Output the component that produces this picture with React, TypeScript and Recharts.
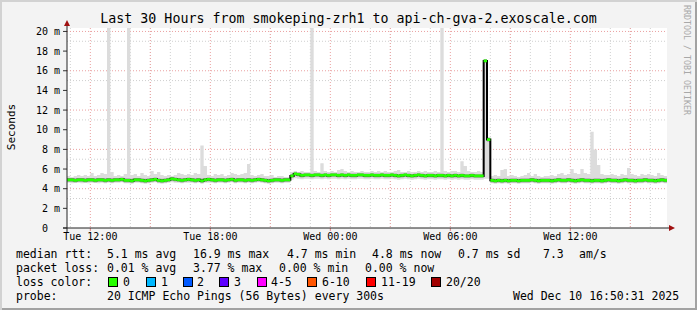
import React from "react";
import { ComposedChart, Area, XAxis, YAxis, CartesianGrid } from "recharts";

const title = "Last 30 Hours from smokeping-zrh1 to api-ch-gva-2.exoscale.com";

// one value every 10 minutes, starting Tue 10:50 (30 hours, 181 samples), milliseconds
const medianRtt = [
  4.9, 4.9, 4.85, 4.9, 4.9, 4.85,
  4.9, 4.9, 4.85, 4.9, 4.9, 4.85,
  4.9, 4.85, 4.9, 4.9, 4.95, 4.85,
  4.85, 4.8, 4.9, 4.9, 4.85, 4.8,
  4.85, 4.9, 4.95, 4.85, 4.8, 4.85,
  4.9, 5.0, 4.95, 4.9, 4.85, 4.9,
  4.95, 4.9, 4.85, 4.9, 4.8, 4.9,
  4.95, 4.9, 4.85, 4.9, 4.9, 4.85,
  4.9, 4.95, 4.85, 4.9, 4.9, 4.85,
  4.9, 4.85, 4.9, 4.95, 4.9, 4.85,
  4.8, 4.85, 4.9, 4.9, 4.85, 4.9,
  4.9, 5.3, 5.5, 5.45, 5.35, 5.4,
  5.4, 5.35, 5.4, 5.4, 5.35, 5.4,
  5.35, 5.4, 5.4, 5.35, 5.4, 5.35,
  5.4, 5.35, 5.35, 5.4, 5.4, 5.35,
  5.35, 5.4, 5.35, 5.35, 5.4, 5.35,
  5.35, 5.4, 5.35, 5.3, 5.35, 5.4,
  5.35, 5.3, 5.35, 5.4, 5.35, 5.3,
  5.35, 5.35, 5.3, 5.35, 5.35, 5.3,
  5.35, 5.3, 5.35, 5.3, 5.35, 5.3,
  5.3, 5.35, 5.3, 5.3, 5.3, 17.0,
  9.0, 4.85, 4.8, 4.85, 4.8, 4.85,
  4.8, 4.85, 4.85, 4.8, 4.85, 4.85,
  4.85, 4.9, 4.85, 4.8, 4.85, 4.85,
  4.85, 4.8, 4.85, 4.9, 4.85, 4.85,
  4.9, 4.85, 4.8, 4.85, 4.9, 4.85,
  4.85, 4.8, 4.85, 4.85, 4.8, 4.85,
  4.9, 4.85, 4.85, 4.8, 4.85, 4.9,
  4.85, 4.85, 4.8, 4.85, 4.85, 4.9,
  4.85, 4.85, 4.8, 4.85, 4.9, 4.85,
  4.85,
];

const smokeHigh = [
  5.3, 5.2, 5.3, 5.4, 5.3, 5.4,
  5.3, 5.6, 5.3, 5.4, 5.6, 5.5,
  25, 5.7, 5.3, 5.4, 5.3, 5.5,
  25, 5.4, 5.5, 5.3, 5.6, 5.4,
  5.3, 5.8, 5.5, 5.7, 5.4, 5.3,
  5.4, 5.3, 5.4, 5.6, 5.5, 5.4,
  5.5, 5.4, 5.6, 5.5, 8.4, 6.3,
  5.4, 5.3, 5.5, 5.4, 5.5, 5.3,
  5.4, 5.6, 5.5, 5.4, 5.5, 5.6,
  6.5, 5.4, 5.3, 5.4, 5.5, 5.3,
  5.3, 5.4, 5.2, 5.3, 5.3, 5.2,
  5.2, 5.7, 5.8, 5.7, 5.8, 5.7,
  5.7, 25, 5.8, 5.7, 6.6, 5.8,
  5.7, 5.8, 5.7, 5.9, 6.0, 5.8,
  5.7, 5.8, 5.7, 5.7, 5.8, 5.7,
  5.7, 5.8, 5.7, 5.8, 5.7, 5.8,
  5.7, 5.7, 5.8, 5.9, 5.7, 5.7,
  5.8, 5.7, 5.7, 5.8, 5.7, 5.8,
  5.7, 5.7, 5.8, 5.7, 25, 5.8,
  5.7, 5.8, 5.8, 5.7, 6.8, 6.3,
  5.8, 5.7, 5.7, 5.8, 5.7, 17.0,
  9.0, 5.3, 5.4, 5.3, 5.9, 6.0,
  5.3, 5.4, 5.3, 5.2, 5.3, 5.4,
  5.6, 5.3, 5.5, 5.3, 5.2, 5.3,
  5.3, 5.4, 5.3, 5.5, 5.6, 5.4,
  5.5, 6.0, 5.6, 5.5, 6.0, 5.6,
  5.5, 9.8, 8.0, 6.4, 5.5, 5.4,
  5.4, 5.5, 5.4, 5.3, 5.5, 5.4,
  6.1, 5.5, 5.4, 5.3, 5.5, 5.4,
  5.5, 5.4, 5.3, 5.6, 5.4, 5.3,
  5.3,
];

const smokeLow = [
  4.6, 4.55, 4.6, 4.6, 4.55, 4.6,
  4.55, 4.6, 4.6, 4.55, 4.6, 4.55,
  4.6, 4.55, 4.6, 4.6, 4.65, 4.55,
  4.55, 4.5, 4.6, 4.6, 4.55, 4.5,
  4.55, 4.6, 4.65, 4.55, 4.5, 4.55,
  4.6, 4.65, 4.6, 4.6, 4.55, 4.6,
  4.6, 4.6, 4.55, 4.6, 4.5, 4.6,
  4.6, 4.6, 4.55, 4.6, 4.6, 4.55,
  4.6, 4.65, 4.55, 4.6, 4.6, 4.55,
  4.6, 4.55, 4.6, 4.65, 4.6, 4.55,
  4.5, 4.55, 4.6, 4.6, 4.55, 4.6,
  4.6, 4.9, 5.05, 5.0, 4.95, 5.0,
  5.0, 4.95, 5.0, 5.0, 4.95, 5.0,
  4.95, 5.0, 5.0, 4.95, 5.0, 4.95,
  5.0, 4.95, 4.95, 5.0, 5.0, 4.95,
  4.95, 5.0, 4.95, 4.95, 5.0, 4.95,
  4.95, 5.0, 4.95, 4.9, 4.95, 5.0,
  4.95, 4.9, 4.95, 5.0, 4.95, 4.9,
  4.95, 4.95, 4.9, 4.95, 4.95, 4.9,
  4.95, 4.9, 4.95, 4.9, 4.95, 4.9,
  4.9, 4.95, 4.9, 4.9, 4.9, 5.0,
  5.0, 4.55, 4.5, 4.55, 4.5, 4.55,
  4.5, 4.55, 4.55, 4.5, 4.55, 4.55,
  4.55, 4.6, 4.55, 4.5, 4.55, 4.55,
  4.55, 4.5, 4.55, 4.6, 4.55, 4.55,
  4.6, 4.55, 4.5, 4.55, 4.6, 4.55,
  4.55, 4.5, 4.55, 4.55, 4.5, 4.55,
  4.6, 4.55, 4.55, 4.5, 4.55, 4.6,
  4.55, 4.55, 4.5, 4.55, 4.55, 4.6,
  4.55, 4.55, 4.5, 4.55, 4.6, 4.55,
  4.55,
];

// hours since Tue 10:50
const xTickHours = [7 / 6, 43 / 6, 79 / 6, 115 / 6, 151 / 6];
const xTickLabels = ["Tue 12:00", "Tue 18:00", "Wed 00:00", "Wed 06:00", "Wed 12:00"];
const yTicks = [0, 2, 4, 6, 8, 10, 12, 14, 16, 18, 20];

const statsRtt = ["5.1 ms avg", "16.9 ms max", "4.7 ms min", "4.8 ms now", "0.7 ms sd", "7.3", "am/s"];
const statsLoss = ["0.01 % avg", "3.77 % max", "0.00 % min", "0.00 % now"];
const lossLabels = ["0", "1", "2", "3", "4-5", "6-10", "11-19", "20/20"];
const lossColors = ["#26ff00", "#00b8ff", "#0059ff", "#5e00ff", "#ff00ff", "#ff5500", "#ff0000", "#a10000"];
const probeText = "20 ICMP Echo Pings (56 Bytes) every 300s";
const stampText = "Wed Dec 10 16:50:31 2025";

const data = medianRtt.map((m, i) => ({
  t: i / 6,
  median: m,
  lo: smokeLow[i],
  hi: smokeHigh[i],
}));

const minorX = Array.from({ length: 30 }, (_, k) => 1 / 6 + k);
const majorX = Array.from({ length: 10 }, (_, k) => 1 / 6 + 1 + k * 3);
const minorY = Array.from({ length: 10 }, (_, k) => 1 + k * 2);

const mono = "'DejaVu Sans Mono', monospace";
const rttX = [107, 193, 287, 372, 458, 543, 579];
const lossX = [107, 193, 279, 365];
const boxX = [108, 146, 183, 219, 257, 307, 366, 431];
const boxLabelX = [123, 161, 197, 234, 271, 322, 381, 446];

function T({ x, y, children, size = 11.5 }: { x: number; y: number; children: React.ReactNode; size?: number }) {
  return (
    <span style={{ position: "absolute", left: x, top: y - 8, lineHeight: "16px", fontSize: size, fontFamily: mono, whiteSpace: "pre", color: "#000" }}>
      {children}
    </span>
  );
}

export default function App() {
  return (
    <div
      style={{
        position: "relative",
        width: 697,
        height: 310,
        background: "#f3f3f3",
        boxShadow: "inset 2px 2px 0 #d2d2d2, inset -2px -2px 0 #a2a2a2",
        overflow: "hidden",
      }}
    >
      <style>{`body{margin:0}`}</style>
      <div style={{ position: "absolute", left: 0, width: 697, top: 9, textAlign: "center", fontFamily: mono, fontSize: 13.3, lineHeight: "20px" }}>
        {title}
      </div>
      <div
        style={{
          position: "absolute",
          left: 11,
          top: 127,
          transform: "translate(-50%, -50%) rotate(-90deg)",
          fontFamily: mono,
          fontSize: 11,
          whiteSpace: "nowrap",
        }}
      >
        Seconds
      </div>
      <div style={{ position: "absolute", left: 682, top: 5, writingMode: "vertical-rl", fontFamily: mono, fontSize: 8.3, color: "#a8a8a8", whiteSpace: "nowrap" }}>
        RRDTOOL / TOBI OETIKER
      </div>

      <ComposedChart width={697} height={310} data={data} margin={{ top: 28, right: 30, bottom: 62, left: 17 }}>
        <CartesianGrid
          fill="#ffffff"
          stroke="#cfcfcf"
          strokeDasharray="1 2"
          horizontalValues={minorY}
          verticalValues={minorX}
        />
        <CartesianGrid
          stroke="#eaa0a0"
          strokeDasharray="1 2"
          horizontalValues={yTicks.slice(1)}
          verticalValues={majorX}
        />
        <XAxis
          type="number"
          dataKey="t"
          domain={[0, 30]}
          ticks={xTickHours}
          tickFormatter={(v: number) => xTickLabels[xTickHours.findIndex((h) => Math.abs(h - v) < 1e-6)] ?? ""}
          tick={{ fill: "#000", fontSize: 10, fontFamily: mono }}
          tickLine={{ stroke: "#e08080" }}
          tickSize={3}
          tickMargin={2}
          axisLine={false}
          height={20}
          allowDataOverflow
        />
        <YAxis
          type="number"
          domain={[0, 20.35]}
          ticks={yTicks}
          tickFormatter={(v: number) => (v === 0 ? "0\u00a0\u00a0" : `${v} m`)}
          tick={{ fill: "#000", fontSize: 10, fontFamily: mono }}
          tickLine={{ stroke: "#333" }}
          tickSize={4}
          tickMargin={3}
          axisLine={false}
          width={50}
          allowDataOverflow
        />
        {/* smoke: full spread of the 20 pings */}
        <Area
          type="stepAfter"
          dataKey={(d: { lo: number; hi: number }) => [d.lo, d.hi]}
          stroke="none"
          fill="#dcdcdc"
          fillOpacity={1}
          dot={false}
          activeDot={false}
          isAnimationActive={false}
        />
        {/* denser smoke near the median */}
        <Area
          type="stepAfter"
          dataKey={(d: { median: number }) => [d.median - 0.22, d.median + 0.2]}
          stroke="none"
          fill="#a0a0a0"
          fillOpacity={0.85}
          dot={false}
          activeDot={false}
          isAnimationActive={false}
        />
        {/* median line, drawn as an unfilled area so it stays under the loss colour */}
        <Area
          type="stepAfter"
          dataKey="median"
          stroke="#000"
          strokeWidth={2}
          fill="none"
          fillOpacity={0}
          dot={false}
          activeDot={false}
          isAnimationActive={false}
        />
        <Area
          type="stepAfter"
          dataKey={(d: { median: number }) => [d.median - 0.14, d.median + 0.14]}
          stroke="none"
          fill="#26ff00"
          fillOpacity={1}
          dot={false}
          activeDot={false}
          isAnimationActive={false}
        />
      </ComposedChart>

      <svg width={697} height={310} style={{ position: "absolute", left: 0, top: 0, pointerEvents: "none" }}>
        <line x1={67} y1={232} x2={67} y2={25} stroke="#222" strokeWidth={1} />
        <line x1={63} y1={228} x2={670} y2={228} stroke="#222" strokeWidth={1} />
        <polygon points="64,26 70,26 67,20" fill="#a01010" />
        <polygon points="669,225 669,231 675,228" fill="#a01010" />
      </svg>

      <T x={16} y={254}>median rtt:</T>
      {statsRtt.map((s, i) => (
        <T key={s} x={rttX[i]} y={254}>{s}</T>
      ))}
      <T x={16} y={268}>packet loss:</T>
      {statsLoss.map((s, i) => (
        <T key={s + i} x={lossX[i]} y={268}>{s}</T>
      ))}
      <T x={16} y={282}>loss color:</T>
      {lossLabels.map((s, i) => (
        <React.Fragment key={s}>
          <span
            style={{
              position: "absolute",
              left: boxX[i],
              top: 277,
              width: 8,
              height: 8,
              background: lossColors[i],
              border: "1px solid #000",
            }}
          />
          <T x={boxLabelX[i]} y={282}>{s}</T>
        </React.Fragment>
      ))}
      <T x={16} y={296}>probe:</T>
      <T x={107} y={296}>{probeText}</T>
      <T x={513} y={296}>{stampText}</T>
    </div>
  );
}
